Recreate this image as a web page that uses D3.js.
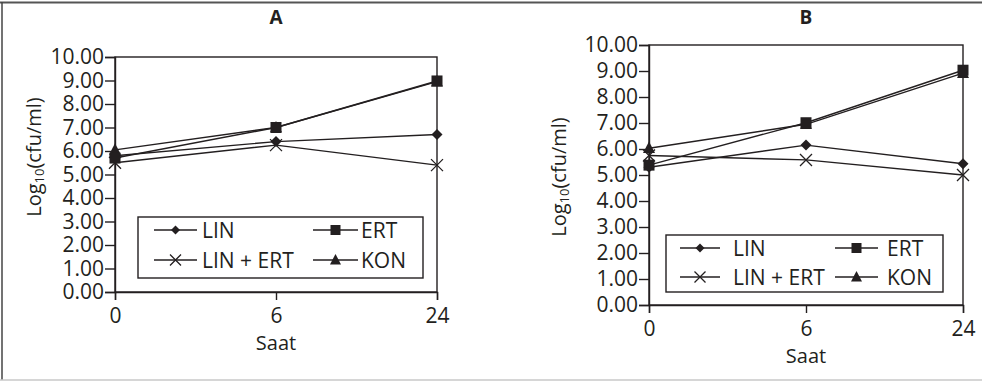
<!DOCTYPE html>
<html>
<head>
<meta charset="utf-8">
<script src="https://cdn.jsdelivr.net/npm/d3@7"></script>
<style>
  body { margin: 0; background: #fff; }
  svg { display: block; font-family: 'Open Sans', sans-serif; }
</style>
</head>
<body>
<div id="chart"></div>
<script>
// data
const hours = ['0', '6', '24']
const yTicks = [0, 1, 2, 3, 4, 5, 6, 7, 8, 9, 10]
const seriesNames = ['LIN', 'ERT', 'LIN + ERT', 'KON']
const seriesSymbols = ['diamond', 'square', 'cross', 'triangle']

// panel A
const linA = [5.8, 6.4, 6.7]
const ertA = [5.7, 7.0, 8.98]
const linErtA = [5.5, 6.25, 5.4]
const konA = [6.05, 7.0, 8.95]

// panel B
const linB = [5.3, 6.15, 5.43]
const ertB = [5.38, 7.01, 9.03]
const linErtB = [5.75, 5.58, 5.0]
const konB = [6.03, 6.95, 8.92]

const ink = '#231f20'
const W = 982, H = 381

const svg = d3.select('#chart').append('svg')
    .attr('width', W)
    .attr('height', H)

// outer frame (top, left, bottom)
svg.append('line').attr('x1', 0).attr('x2', W).attr('y1', 2.5).attr('y2', 2.5)
    .attr('stroke', '#555').attr('stroke-width', 2)
svg.append('line').attr('x1', 2).attr('x2', 2).attr('y1', 2).attr('y2', 380)
    .attr('stroke', '#444').attr('stroke-width', 1.5)
svg.append('line').attr('x1', 0).attr('x2', W).attr('y1', 380).attr('y2', 380)
    .attr('stroke', '#c8c8c8').attr('stroke-width', 1.5)

const panels = [
    {
        title: 'A', series: [linA, ertA, linErtA, konA],
        left: 115, right: 437, top: 57, bottom: 292,
        titleY: 24, yLabelX: 33, yLabelY: 157, xLabelY: 315, saatY: 342,
        legend: {x: 138, y: 217, w: 285, h: 61, rows: [230, 260],
            cols: [{x1: 154, x2: 197, tx: 202}, {x1: 313, x2: 358, tx: 361}]}
    },
    {
        title: 'B', series: [linB, ertB, linErtB, konB],
        left: 649, right: 963, top: 45, bottom: 305,
        titleY: 24, yLabelX: 558, yLabelY: 177, xLabelY: 328, saatY: 355,
        legend: {x: 666, y: 235, w: 277, h: 57, rows: [248, 277],
            cols: [{x1: 680, x2: 720, tx: 733}, {x1: 835, x2: 878, tx: 887}]}
    }
]

const drawMarker = (g, type, cx, cy, s) => {
    if (type === 'diamond') {
        g.append('path')
            .attr('d', `M${cx},${cy - s / 2}L${cx + s / 2},${cy}L${cx},${cy + s / 2}L${cx - s / 2},${cy}Z`)
            .attr('fill', ink)
    } else if (type === 'square') {
        g.append('rect')
            .attr('x', cx - s / 2).attr('y', cy - s / 2)
            .attr('width', s).attr('height', s)
            .attr('fill', ink)
    } else if (type === 'triangle') {
        g.append('path')
            .attr('d', `M${cx},${cy - s * 0.55}L${cx + s / 2},${cy + s * 0.4}L${cx - s / 2},${cy + s * 0.4}Z`)
            .attr('fill', ink)
    } else {
        const r = s / 2
        g.append('path')
            .attr('d', `M${cx - r},${cy - r}L${cx + r},${cy + r}M${cx - r},${cy + r}L${cx + r},${cy - r}`)
            .attr('stroke', ink).attr('stroke-width', 1.3).attr('fill', 'none')
    }
}

const markerSize = {diamond: 11, square: 11, triangle: 12, cross: 12}
const legendMarkerSize = {diamond: 9, square: 10, triangle: 11, cross: 11}

panels.forEach(p => {
    const x = d3.scalePoint().domain(hours).range([p.left, p.right])
    const y = d3.scaleLinear().domain([0, 10]).range([p.bottom, p.top])
    const g = svg.append('g')

    // plot box
    g.append('rect')
        .attr('x', p.left).attr('y', p.top)
        .attr('width', p.right - p.left).attr('height', p.bottom - p.top)
        .attr('fill', 'none').attr('stroke', ink).attr('stroke-width', 1.4)

    const yAxis = g.append('g')
        .attr('transform', `translate(${p.left},0)`)
        .call(d3.axisLeft(y).tickValues(yTicks).tickFormat(d3.format('.2f')).tickSize(10).tickPadding(1))
    const xAxis = g.append('g')
        .attr('transform', `translate(0,${p.bottom})`)
        .call(d3.axisBottom(x).tickSize(8))

    ;[yAxis, xAxis].forEach(a => {
        a.attr('font-size', null).attr('font-family', null)
        a.select('.domain').attr('stroke', ink).attr('stroke-width', 1.4)
        a.selectAll('.tick line').attr('stroke', ink).attr('stroke-width', 1.4)
        a.selectAll('.tick text').attr('fill', ink).attr('font-size', 21)
    })
    xAxis.selectAll('.tick text').attr('dy', null)
        .attr('y', p.xLabelY - p.bottom).attr('dominant-baseline', 'central')

    // titles
    g.append('text')
        .attr('x', (p.left + p.right) / 2).attr('y', p.titleY)
        .attr('text-anchor', 'middle').attr('font-weight', 'bold')
        .attr('font-size', 19).attr('fill', ink)
        .text(p.title)

    g.append('text')
        .attr('x', (p.left + p.right) / 2).attr('y', p.saatY)
        .attr('text-anchor', 'middle').attr('dominant-baseline', 'central')
        .attr('font-size', 20).attr('fill', ink)
        .text('Saat')

    const yl = g.append('text')
        .attr('transform', `translate(${p.yLabelX},${p.yLabelY}) rotate(-90)`)
        .attr('text-anchor', 'middle').attr('dominant-baseline', 'central')
        .attr('font-size', 20).attr('fill', ink)
    yl.append('tspan').text('Log')
    yl.append('tspan').attr('font-size', 13).attr('dy', 6).text('10')
    yl.append('tspan').attr('dy', -6).text('(cfu/ml)')

    // lines, KON first so the squares sit on top
    const order = [3, 0, 2, 1]
    const line = d3.line().x((d, i) => x(hours[i])).y(d => y(d))
    order.forEach(k => {
        g.append('path')
            .attr('d', line(p.series[k]))
            .attr('fill', 'none').attr('stroke', ink).attr('stroke-width', 1.4)
    })
    order.forEach(k => {
        const sym = seriesSymbols[k]
        p.series[k].forEach((v, i) => drawMarker(g, sym, x(hours[i]), y(v), markerSize[sym]))
    })

    // legend
    const L = p.legend
    g.append('rect')
        .attr('x', L.x).attr('y', L.y).attr('width', L.w).attr('height', L.h)
        .attr('fill', '#fff').attr('stroke', ink).attr('stroke-width', 1.4)
    seriesNames.forEach((name, k) => {
        const col = L.cols[k % 2], ry = L.rows[Math.floor(k / 2)]
        const sym = seriesSymbols[k]
        g.append('line')
            .attr('x1', col.x1).attr('x2', col.x2).attr('y1', ry).attr('y2', ry)
            .attr('stroke', ink).attr('stroke-width', 1.4)
        drawMarker(g, sym, (col.x1 + col.x2) / 2, ry, legendMarkerSize[sym])
        g.append('text')
            .attr('x', col.tx).attr('y', ry)
            .attr('dominant-baseline', 'central')
            .attr('font-size', 21).attr('fill', ink)
            .text(name)
    })
})
</script>
</body>
</html>
